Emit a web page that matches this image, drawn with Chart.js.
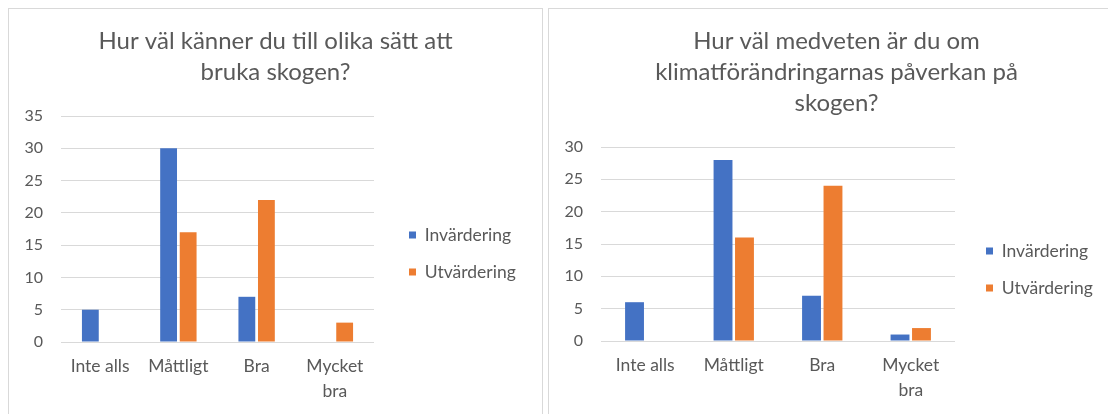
<!DOCTYPE html>
<html><head><meta charset="utf-8">
<script src="https://cdn.jsdelivr.net/npm/chart.js@4/dist/chart.umd.min.js"></script>
<style>
html,body{margin:0;padding:0;background:#fff;overflow:hidden;width:1108px;height:414px}
.box{position:absolute;top:8px;border:1px solid #D9D9D9;background:#fff}
#b1{left:8px;width:533px;height:420px}
#b2{left:548px;width:575px;height:420px}
canvas{display:block}
</style></head><body>
<div class="box" id="b1"><canvas id="c1" width="533" height="403"></canvas></div>
<div class="box" id="b2"><canvas id="c2" width="575" height="403"></canvas></div>
<script>
// ---- data ----
const categories = [['Inte alls'], ['Måttligt'], ['Bra'], ['Mycket', 'bra']];
const seriesNames = ['Invärdering', 'Utvärdering'];
const chart1Title = ['Hur väl känner du till olika sätt att', 'bruka skogen?'];
const chart1Inv = [5, 30, 7, 0];
const chart1Utv = [0, 17, 22, 3];
const chart2Title = ['Hur väl medveten är du om', 'klimatförändringarnas påverkan på', 'skogen?'];
const chart2Inv = [6, 28, 7, 1];
const chart2Utv = [0, 16, 24, 2];
const chart1Max = 35;
const chart2Max = 30;
const tickStep = 5;

// ---- styling ----
const BLUE = '#4472C4', ORANGE = '#ED7D31', TEXT = '#595959', GRID = '#D9D9D9';
Chart.defaults.font.family = 'Lato, "Open Sans", sans-serif';
const LEGEND_FONT = 17.5, LEGEND_PAD = 19.5;

function placeLegend(legW, sqX, firstCenterY) {
  return {
    id: 'placeLegend',
    afterInit(chart) {
      const lg = chart.legend;
      const fit = lg.fit;
      lg.fit = function () { fit.call(this); this.width = legW; };
    },
    afterLayout(chart) {
      const lg = chart.legend;
      lg.left = sqX - LEGEND_PAD;
      lg.right = lg.left + 220;
      lg.top = firstCenterY - LEGEND_FONT / 2 - LEGEND_PAD;
      lg.bottom = lg.top + 140;
    }
  };
}

function makeChart(id, title, inv, utv, max, o) {
  return new Chart(document.getElementById(id), {
    type: 'bar',
    data: {
      labels: categories,
      datasets: [
        { label: seriesNames[0], data: inv, backgroundColor: BLUE, borderWidth: 0,
          categoryPercentage: o.cat, barPercentage: o.bar },
        { label: seriesNames[1], data: utv, backgroundColor: ORANGE, borderWidth: 0,
          categoryPercentage: o.cat, barPercentage: o.bar }
      ]
    },
    options: {
      responsive: false,
      animation: false,
      layout: { padding: 0 },
      plugins: {
        title: {
          display: true, text: title, color: TEXT,
          font: { size: 24, weight: 'normal', lineHeight: 31 / 24 },
          padding: { top: 17, bottom: 28 }
        },
        legend: {
          position: 'right', align: 'start',
          labels: {
            color: TEXT, boxWidth: 7, boxHeight: 7, padding: LEGEND_PAD,
            font: { size: LEGEND_FONT }
          }
        },
        tooltip: { enabled: false }
      },
      scales: {
        x: {
          grid: { display: false, drawTicks: false },
          border: { display: false },
          ticks: { color: TEXT, font: { size: 17.5, lineHeight: 25 / 17.5 }, padding: 12,
                   maxRotation: 0, autoSkip: false },
          afterFit(s) { s.height = o.xH; }
        },
        y: {
          min: 0, max: max,
          grid: { color: GRID, drawTicks: false, lineWidth: 1 },
          border: { display: false },
          ticks: { stepSize: tickStep, color: TEXT, font: { size: 16 }, padding: 18 },
          afterFit(s) { s.width = 52; }
        }
      }
    },
    plugins: [placeLegend(o.legW, o.legX, o.legY)]
  });
}

makeChart('c1', chart1Title, chart1Inv, chart1Utv, chart1Max,
  { cat: 0.5, bar: 0.86, legW: 168, xH: 70, legX: 400, legY: 226 });
makeChart('c2', chart2Title, chart2Inv, chart2Utv, chart2Max,
  { cat: 0.485, bar: 0.88, legW: 169, xH: 71, legX: 437, legY: 242 });
</script>
</body></html>
